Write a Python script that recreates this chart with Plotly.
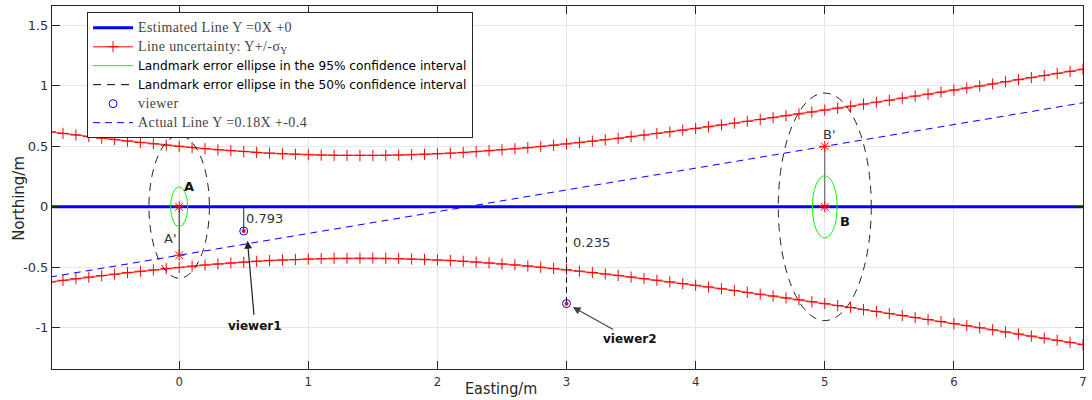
import plotly.graph_objects as go

# ---------------- data ----------------
X_GRID = [-1.0, -0.9, -0.8, -0.7, -0.6, -0.5, -0.4, -0.3, -0.2, -0.1,
          0.0, 0.1, 0.2, 0.3, 0.4, 0.5, 0.6, 0.7, 0.8, 0.9,
          1.0, 1.1, 1.2, 1.3, 1.4, 1.5, 1.6, 1.7, 1.8, 1.9,
          2.0, 2.1, 2.2, 2.3, 2.4, 2.5, 2.6, 2.7, 2.8, 2.9,
          3.0, 3.1, 3.2, 3.3, 3.4, 3.5, 3.6, 3.7, 3.8, 3.9,
          4.0, 4.1, 4.2, 4.3, 4.4, 4.5, 4.6, 4.7, 4.8, 4.9,
          5.0, 5.1, 5.2, 5.3, 5.4, 5.5, 5.6, 5.7, 5.8, 5.9,
          6.0, 6.1, 6.2, 6.3, 6.4, 6.5, 6.6, 6.7, 6.8, 6.9, 7.0]
SIGMA_UPPER = [0.621, 0.607, 0.594, 0.581, 0.568, 0.556, 0.544, 0.532, 0.521, 0.510,
               0.500, 0.490, 0.481, 0.472, 0.464, 0.457, 0.450, 0.444, 0.439, 0.435,
               0.431, 0.428, 0.426, 0.425, 0.424, 0.424, 0.426, 0.428, 0.431, 0.434,
               0.439, 0.444, 0.450, 0.456, 0.464, 0.472, 0.480, 0.489, 0.499, 0.509,
               0.520, 0.531, 0.543, 0.555, 0.567, 0.580, 0.593, 0.606, 0.620, 0.634,
               0.648, 0.662, 0.677, 0.692, 0.707, 0.722, 0.737, 0.753, 0.768, 0.784,
               0.800, 0.816, 0.832, 0.849, 0.865, 0.881, 0.898, 0.915, 0.931, 0.948,
               0.965, 0.982, 0.999, 1.016, 1.034, 1.051, 1.068, 1.085, 1.103, 1.120, 1.138]
SIGMA_LOWER = [-s for s in SIGMA_UPPER]

EST_LINE_X = [-1.0, 7.0]
EST_LINE_Y = [0.0, 0.0]
ACT_LINE_X = [-1.0, 7.0]
ACT_LINE_Y = [-0.58, 0.86]

LANDMARK_X = [0.0, 5.0]
LANDMARK_Y = [0.0, 0.0]
PROJ_X = [0.0, 5.0]          # A', B'
PROJ_Y = [-0.4, 0.5]
E95_SEMI_X = [0.066, 0.096]
E95_SEMI_Y = [0.165, 0.257]
E50_SEMI_X = [0.234, 0.360]
E50_SEMI_Y = [0.590, 0.940]

VIEWER_X = [0.5, 3.0]
VIEWER_Y = [-0.2, -0.8]
VIEWER_DIST = ["0.793", "0.235"]
VIEWER_NAMES = ["viewer1", "viewer2"]

X_TICKS = [0, 1, 2, 3, 4, 5, 6, 7]
X_TICK_TEXT = ["0", "1", "2", "3", "4", "5", "6", "7"]
Y_TICKS = [-1, -0.5, 0, 0.5, 1, 1.5]
Y_TICK_TEXT = ["-1", "-0.5", "0", "0.5", "1", "1.5"]

SANS = "DejaVu Sans"
SANS_C = "DejaVu Sans Condensed"
SERIF = "Liberation Serif"


def serif(t):
    return (f"<span style=\"font-family:'{SERIF}';font-size:14px;"
            f"letter-spacing:0.4px;fill:#444\">{t}</span>")


fig = go.Figure()

# estimated line
fig.add_trace(go.Scatter(x=EST_LINE_X, y=EST_LINE_Y, mode="lines",
                         line=dict(color="#0000ff", width=3),
                         name=serif("Estimated Line Y =0X +0"), legendrank=1))
# uncertainty band
unc_marker = dict(symbol="cross-thin", size=8, color="#ff0000",
                  line=dict(color="#ff0000", width=1))
fig.add_trace(go.Scatter(x=X_GRID, y=SIGMA_UPPER, mode="lines+markers",
                         line=dict(color="rgba(255,40,40,0.8)", width=1.5),
                         marker=unc_marker,
                         name=serif("Line uncertainty: Y+/-σ<sub>Y</sub>"),
                         legendgroup="unc", legendrank=2))
fig.add_trace(go.Scatter(x=X_GRID, y=SIGMA_LOWER, mode="lines+markers",
                         line=dict(color="rgba(255,40,40,0.8)", width=1.5),
                         marker=unc_marker,
                         legendgroup="unc", showlegend=False))
# legend entries for ellipses (ellipses drawn as shapes)
fig.add_trace(go.Scatter(x=[None], y=[None], mode="lines",
                         line=dict(color="#00ff00", width=1),
                         name="Landmark error ellipse in the 95% confidence interval",
                         legendrank=3))
fig.add_trace(go.Scatter(x=[None], y=[None], mode="lines",
                         line=dict(color="#000000", width=1, dash="8px,6px"),
                         name="Landmark error ellipse in the 50% confidence interval",
                         legendrank=4))

# connectors landmark -> projection
for i in range(len(LANDMARK_X)):
    fig.add_trace(go.Scatter(x=[LANDMARK_X[i], PROJ_X[i]], y=[LANDMARK_Y[i], PROJ_Y[i]],
                             mode="lines", line=dict(color="#222" if i == 0 else "#555", width=1),
                             showlegend=False, hoverinfo="skip"))
# viewer vertical distance lines
fig.add_trace(go.Scatter(x=[VIEWER_X[0], VIEWER_X[0]], y=[0, VIEWER_Y[0]], mode="lines",
                         line=dict(color="#222", width=1), showlegend=False, hoverinfo="skip"))
fig.add_trace(go.Scatter(x=[VIEWER_X[1], VIEWER_X[1]], y=[0, VIEWER_Y[1]], mode="lines",
                         line=dict(color="#111", width=1, dash="6px,4px"),
                         showlegend=False, hoverinfo="skip"))

# viewer markers
fig.add_trace(go.Scatter(x=VIEWER_X, y=VIEWER_Y, mode="markers",
                         marker=dict(symbol="circle-open", size=8, color="#0000ff",
                                     line=dict(color="#0000ff", width=1)),
                         name=serif("viewer"), legendrank=5))
fig.add_trace(go.Scatter(x=VIEWER_X, y=VIEWER_Y, mode="markers",
                         marker=dict(symbol="circle", size=4, color="#ff0000"),
                         showlegend=False, hoverinfo="skip"))
# actual line
fig.add_trace(go.Scatter(x=ACT_LINE_X, y=ACT_LINE_Y, mode="lines",
                         line=dict(color="#0000ff", width=1, dash="7px,5px"),
                         name=serif("Actual Line Y =0.18X +-0.4"), legendrank=6))
# asterisks at landmarks and projections
fig.add_trace(go.Scatter(x=LANDMARK_X + PROJ_X, y=LANDMARK_Y + PROJ_Y, mode="markers",
                         marker=dict(symbol="asterisk-open", size=9, color="#ff0000",
                                     line=dict(color="#ff0000", width=1)),
                         showlegend=False, hoverinfo="skip"))

# ellipses
for i in range(len(LANDMARK_X)):
    cx, cy = LANDMARK_X[i], LANDMARK_Y[i]
    fig.add_shape(type="circle", xref="x", yref="y",
                  x0=cx - E95_SEMI_X[i], x1=cx + E95_SEMI_X[i],
                  y0=cy - E95_SEMI_Y[i], y1=cy + E95_SEMI_Y[i],
                  line=dict(color="#00ff00", width=1))
    fig.add_shape(type="circle", xref="x", yref="y",
                  x0=cx - E50_SEMI_X[i], x1=cx + E50_SEMI_X[i],
                  y0=cy - E50_SEMI_Y[i], y1=cy + E50_SEMI_Y[i],
                  line=dict(color="#222222", width=1, dash="8px,6px"))

# text labels
lab = dict(xref="x", yref="y", showarrow=False)
fig.add_annotation(x=0.075, y=0.168, text="<b>A</b>", font=dict(family=SANS, size=13, color="#111"), **lab)
fig.add_annotation(x=-0.069, y=-0.261, text="A'", font=dict(family=SANS, size=13, color="#333"), **lab)
fig.add_annotation(x=5.033, y=0.601, text="B'", font=dict(family=SANS, size=13, color="#333"), **lab)
fig.add_annotation(x=5.159, y=-0.119, text="<b>B</b>", font=dict(family=SANS, size=13, color="#111"), **lab)
fig.add_annotation(x=VIEWER_X[0] + 0.005, y=-0.10, text=VIEWER_DIST[0], xanchor="left",
                   font=dict(family=SANS, size=13, color="#333"), **lab)
fig.add_annotation(x=VIEWER_X[1] + 0.035, y=-0.297, text=VIEWER_DIST[1], xanchor="left",
                   font=dict(family=SANS, size=13, color="#333"), **lab)

# viewer name labels with arrows pointing at the viewers
fig.add_annotation(x=0.529, y=-0.281, ax=0.587, ay=-0.988, xref="x", yref="y",
                   axref="x", ayref="y", text="<b>" + VIEWER_NAMES[0] + "</b>",
                   font=dict(family=SANS, size=12, color="#111"),
                   showarrow=True, arrowhead=2, arrowsize=1.3, arrowwidth=1.2,
                   arrowcolor="#222", standoff=0, startstandoff=3)
fig.add_annotation(x=3.048, y=-0.828, ax=3.495, ay=-1.091, xref="x", yref="y",
                   axref="x", ayref="y", text="<b>" + VIEWER_NAMES[1] + "</b>",
                   font=dict(family=SANS, size=12, color="#111"),
                   showarrow=True, arrowhead=2, arrowsize=1.3, arrowwidth=1.2,
                   arrowcolor="#444", standoff=0, startstandoff=2)

# axis titles
fig.add_annotation(x=2.49, y=-1.34, xref="x", yref="y", yshift=-19, text="Easting/m",
                   showarrow=False, yanchor="middle", xanchor="center",
                   font=dict(family=SANS_C, size=16, color="#262626"))
fig.add_annotation(x=-0.0316, y=0.47, xref="paper", yref="paper", text="Northing/m",
                   textangle=-90, showarrow=False, xanchor="center", yanchor="middle",
                   font=dict(family=SANS, size=15, color="#262626"))

axis_common = dict(showgrid=True, gridcolor="#e6e6e6", gridwidth=1, zeroline=False,
                   showline=True, linecolor="#262626", linewidth=1, mirror="ticks",
                   ticks="inside", ticklen=8, tickcolor="#262626")
fig.update_xaxes(range=[-0.985, 7.0], tickvals=X_TICKS, ticktext=X_TICK_TEXT,
                 tickfont=dict(family=SANS_C, size=13, color="#333"), **axis_common)
fig.update_yaxes(range=[-1.34, 1.66], tickvals=Y_TICKS, ticktext=Y_TICK_TEXT,
                 tickfont=dict(family=SANS, size=13, color="#333"), **axis_common)

fig.update_layout(
    width=1092, height=400, autosize=False,
    margin=dict(l=52, r=5, t=5, b=31),
    paper_bgcolor="white", plot_bgcolor="white",
    font=dict(family=SANS, color="#262626"),
    legend=dict(x=0.034, y=0.983, xanchor="left", yanchor="top",
                bgcolor="white", bordercolor="#262626", borderwidth=1,
                font=dict(family=SANS, size=12.2, color="#000"),
                itemwidth=40, tracegroupgap=0),
)

fig.write_html("out.html", config={"displayModeBar": False},
               post_script="document.body.style.margin='0';document.body.style.overflow='hidden';")
